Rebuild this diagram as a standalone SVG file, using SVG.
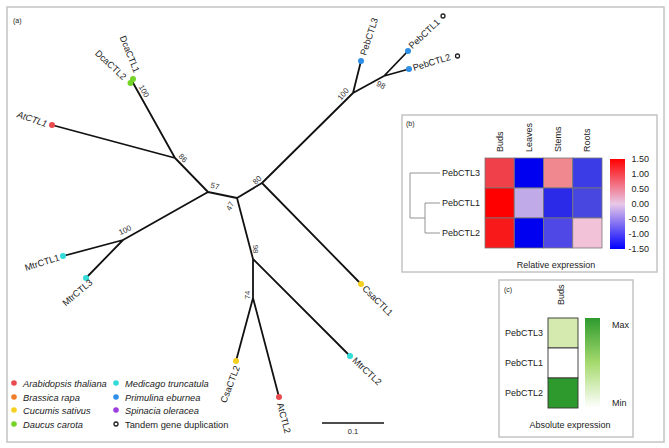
<svg xmlns="http://www.w3.org/2000/svg" width="669" height="448" viewBox="0 0 669 448">
<defs>
<style>
text{font-family:"Liberation Sans",Arial,sans-serif;fill:#222}
.br{stroke:#111;stroke-width:1.8;fill:none;stroke-linecap:round}
.lf{font-size:9.2px}
.bs{font-size:7.8px;fill:#333}
.lg{font-size:9.3px;font-style:italic}
.pl{font-size:7px}
.hm{font-size:9px}
.cell{stroke:#777;stroke-width:0.8}
.frame{fill:none;stroke:#c4c4c4;stroke-width:1.5}
.dd{stroke:#888;stroke-width:0.9;fill:none}
.td{fill:#fff;stroke:#222;stroke-width:1.3}
</style>
<linearGradient id="gRel" x1="0" y1="0" x2="0" y2="1">
<stop offset="0" stop-color="#ff0000"/>
<stop offset="0.5" stop-color="#e8c8e8"/>
<stop offset="1" stop-color="#0000ff"/>
</linearGradient>
<linearGradient id="gAbs" x1="0" y1="0" x2="0" y2="1">
<stop offset="0" stop-color="#2e9a2e"/>
<stop offset="0.5" stop-color="#a6da6e"/>
<stop offset="1" stop-color="#ffffff"/>
</linearGradient>
</defs>
<rect width="669" height="448" fill="#fff"/>
<rect class="frame" x="7" y="7" width="657" height="435"/>
<text class="pl" x="13" y="23">(a)</text>

<g id="connectors">
<path class="br" d="M208,192 L175,158 M175,158 L132,81 M175,158 L52,125 M208,192 L123,240 M123,240 L63,256 M123,240 L86,278 M208,192 L237,198 M237,198 L262,183 M262,183 L353,93 M353,93 L361,61 M353,93 L384,76 M384,76 L408,51 M384,76 L409,69 M262,183 L361,284 M237,198 L253,259 M253,259 L350,356 M253,259 L253,298 M253,298 L236,361 M253,298 L279,397"/>
</g>

<g id="bootstrap">
<text class="bs" text-anchor="middle" dy=".35em" transform="translate(144,91) rotate(60)">100</text>
<text class="bs" text-anchor="middle" dy=".35em" transform="translate(183,158) rotate(45)">86</text>
<text class="bs" text-anchor="middle" dy=".35em" transform="translate(215,186) rotate(15)">57</text>
<text class="bs" text-anchor="middle" dy=".35em" transform="translate(230,206) rotate(-60)">47</text>
<text class="bs" text-anchor="middle" dy=".35em" transform="translate(257,180) rotate(-45)">80</text>
<text class="bs" text-anchor="middle" dy=".35em" transform="translate(343,94) rotate(-50)">100</text>
<text class="bs" text-anchor="middle" dy=".35em" transform="translate(381,85) rotate(30)">98</text>
<text class="bs" text-anchor="middle" dy=".35em" transform="translate(125,230) rotate(-25)">100</text>
<text class="bs" text-anchor="middle" dy=".35em" transform="translate(256,249) rotate(90)">98</text>
<text class="bs" text-anchor="middle" dy=".35em" transform="translate(247,295) rotate(-90)">74</text>
</g>

<g id="DcaCTL1"><circle cx="133" cy="79" r="3" fill="#74d428"/><text class="lf" text-anchor="end" dy=".35em" transform="translate(137,72) rotate(68)">DcaCTL1</text></g>
<g id="DcaCTL2"><circle cx="130.5" cy="83" r="3" fill="#74d428"/><text class="lf" text-anchor="end" dy=".35em" transform="translate(125,78) rotate(43)">DcaCTL2</text></g>
<g id="AtCTL1"><circle cx="52" cy="125" r="3" fill="#e84a50"/><text class="lf" font-style="italic" text-anchor="end" dy=".35em" transform="translate(47,124) rotate(19)">AtCTL1</text></g>
<g id="PebCTL3"><circle cx="361" cy="61" r="3" fill="#2e8ee8"/><text class="lf" dy=".35em" transform="translate(363,55) rotate(-72)">PebCTL3</text></g>
<g id="PebCTL1"><circle cx="408" cy="51" r="3" fill="#2e8ee8"/><text class="lf" dy=".35em" transform="translate(410,47) rotate(-43)">PebCTL1</text><circle class="td" cx="443" cy="16" r="2"/></g>
<g id="PebCTL2"><circle cx="409" cy="69" r="3" fill="#2e8ee8"/><text class="lf" dy=".35em" transform="translate(413,68) rotate(-17)">PebCTL2</text><circle class="td" cx="457.5" cy="56" r="2"/></g>
<g id="MtrCTL1"><circle cx="63" cy="256" r="3" fill="#33dcd8"/><text class="lf" text-anchor="end" dy=".35em" transform="translate(59,257) rotate(-18)">MtrCTL1</text></g>
<g id="MtrCTL3"><circle cx="86" cy="278" r="3" fill="#33dcd8"/><text class="lf" text-anchor="end" dy=".35em" transform="translate(91,281) rotate(-40)">MtrCTL3</text></g>
<g id="CsaCTL1"><circle cx="361" cy="284" r="3" fill="#f5d020"/><text class="lf" dy=".35em" transform="translate(364,287) rotate(45)">CsaCTL1</text></g>
<g id="MtrCTL2"><circle cx="350" cy="356" r="3" fill="#33dcd8"/><text class="lf" dy=".35em" transform="translate(354,359) rotate(43)">MtrCTL2</text></g>
<g id="CsaCTL2"><circle cx="236" cy="361" r="3" fill="#f5d020"/><text class="lf" text-anchor="end" dy=".35em" transform="translate(237,366) rotate(-69)">CsaCTL2</text></g>
<g id="AtCTL2"><circle cx="279" cy="397" r="3" fill="#e84a50"/><text class="lf" dy=".35em" transform="translate(280,403) rotate(75)">AtCTL2</text></g>

<g id="scalebar">
<line x1="322" y1="423" x2="384" y2="423" stroke="#111" stroke-width="1.5"/>
<text x="353" y="434" font-size="7.5" text-anchor="middle">0.1</text>
</g>

<g id="legend">
<circle cx="14" cy="383" r="2.8" fill="#e84a50"/><text class="lg" x="23" y="386.5">Arabidopsis thaliana</text>
<circle cx="14" cy="397" r="2.8" fill="#f07d2a"/><text class="lg" x="23" y="400.5">Brassica rapa</text>
<circle cx="14" cy="410" r="2.8" fill="#f5d020"/><text class="lg" x="23" y="413.5">Cucumis sativus</text>
<circle cx="14" cy="424" r="2.8" fill="#74d428"/><text class="lg" x="23" y="427.5">Daucus carota</text>
<circle cx="116" cy="383" r="2.8" fill="#33dcd8"/><text class="lg" x="125" y="386.5">Medicago truncatula</text>
<circle cx="116" cy="397" r="2.8" fill="#2e8ee8"/><text class="lg" x="125" y="400.5">Primulina eburnea</text>
<circle cx="116" cy="410" r="2.8" fill="#9a3ee0"/><text class="lg" x="125" y="413.5">Spinacia oleracea</text>
<circle class="td" cx="116" cy="424" r="2"/><text x="125" y="427.5" font-size="9.3">Tandem gene duplication</text>
</g>

<g id="panel-b">
<rect class="frame" x="402" y="115" width="255" height="157"/>
<text class="pl" x="406" y="126">(b)</text>
<text class="hm" transform="translate(503,152) rotate(-90)">Buds</text>
<text class="hm" transform="translate(532,152) rotate(-90)">Leaves</text>
<text class="hm" transform="translate(561,152) rotate(-90)">Stems</text>
<text class="hm" transform="translate(590,152) rotate(-90)">Roots</text>
<path class="dd" d="M440,173 H410 V218 H425 M425,203 V233 M425,203 H440 M425,233 H440"/>
<text class="hm" x="480" y="176" text-anchor="end">PebCTL3</text>
<text class="hm" x="480" y="206" text-anchor="end">PebCTL1</text>
<text class="hm" x="480" y="236" text-anchor="end">PebCTL2</text>
<rect class="cell" x="485" y="158" width="29.25" height="30" fill="#f0404a"/>
<rect class="cell" x="514.25" y="158" width="29.25" height="30" fill="#0000f0"/>
<rect class="cell" x="543.5" y="158" width="29.25" height="30" fill="#f0888f"/>
<rect class="cell" x="572.75" y="158" width="29.25" height="30" fill="#3c3ce6"/>
<rect class="cell" x="485" y="188" width="29.25" height="30" fill="#ff0000"/>
<rect class="cell" x="514.25" y="188" width="29.25" height="30" fill="#c0aae8"/>
<rect class="cell" x="543.5" y="188" width="29.25" height="30" fill="#2a2ae8"/>
<rect class="cell" x="572.75" y="188" width="29.25" height="30" fill="#4848e0"/>
<rect class="cell" x="485" y="218" width="29.25" height="30" fill="#f81a1a"/>
<rect class="cell" x="514.25" y="218" width="29.25" height="30" fill="#0000f0"/>
<rect class="cell" x="543.5" y="218" width="29.25" height="30" fill="#5048e6"/>
<rect class="cell" x="572.75" y="218" width="29.25" height="30" fill="#f2c2d8"/>
<rect x="610" y="159" width="15" height="90" fill="url(#gRel)"/>
<text class="hm" x="649" y="162" text-anchor="end">1.50</text>
<text class="hm" x="649" y="177" text-anchor="end">1.00</text>
<text class="hm" x="649" y="192" text-anchor="end">0.50</text>
<text class="hm" x="649" y="207" text-anchor="end">0.00</text>
<text class="hm" x="649" y="222" text-anchor="end">-0.50</text>
<text class="hm" x="649" y="237" text-anchor="end">-1.00</text>
<text class="hm" x="649" y="252" text-anchor="end">-1.50</text>
<text class="hm" x="556" y="268" text-anchor="middle">Relative expression</text>
</g>

<g id="panel-c">
<rect class="frame" x="499" y="280" width="134" height="157"/>
<text class="pl" x="504" y="292">(c)</text>
<text class="hm" transform="translate(564,305) rotate(-90)">Buds</text>
<text class="hm" x="543" y="336" text-anchor="end">PebCTL3</text>
<text class="hm" x="543" y="366" text-anchor="end">PebCTL1</text>
<text class="hm" x="543" y="396" text-anchor="end">PebCTL2</text>
<rect x="548" y="318" width="30" height="30" fill="#d4eaaf" stroke="#333" stroke-width="0.9"/>
<rect x="548" y="348" width="30" height="30" fill="#ffffff" stroke="#333" stroke-width="0.9"/>
<rect x="548" y="378" width="30" height="30" fill="#2e9a2e" stroke="#333" stroke-width="0.9"/>
<rect x="585" y="318" width="15" height="90" fill="url(#gAbs)"/>
<text class="hm" x="612" y="328">Max</text>
<text class="hm" x="612" y="406">Min</text>
<text class="hm" x="570" y="428" text-anchor="middle">Absolute expression</text>
</g>
</svg>
